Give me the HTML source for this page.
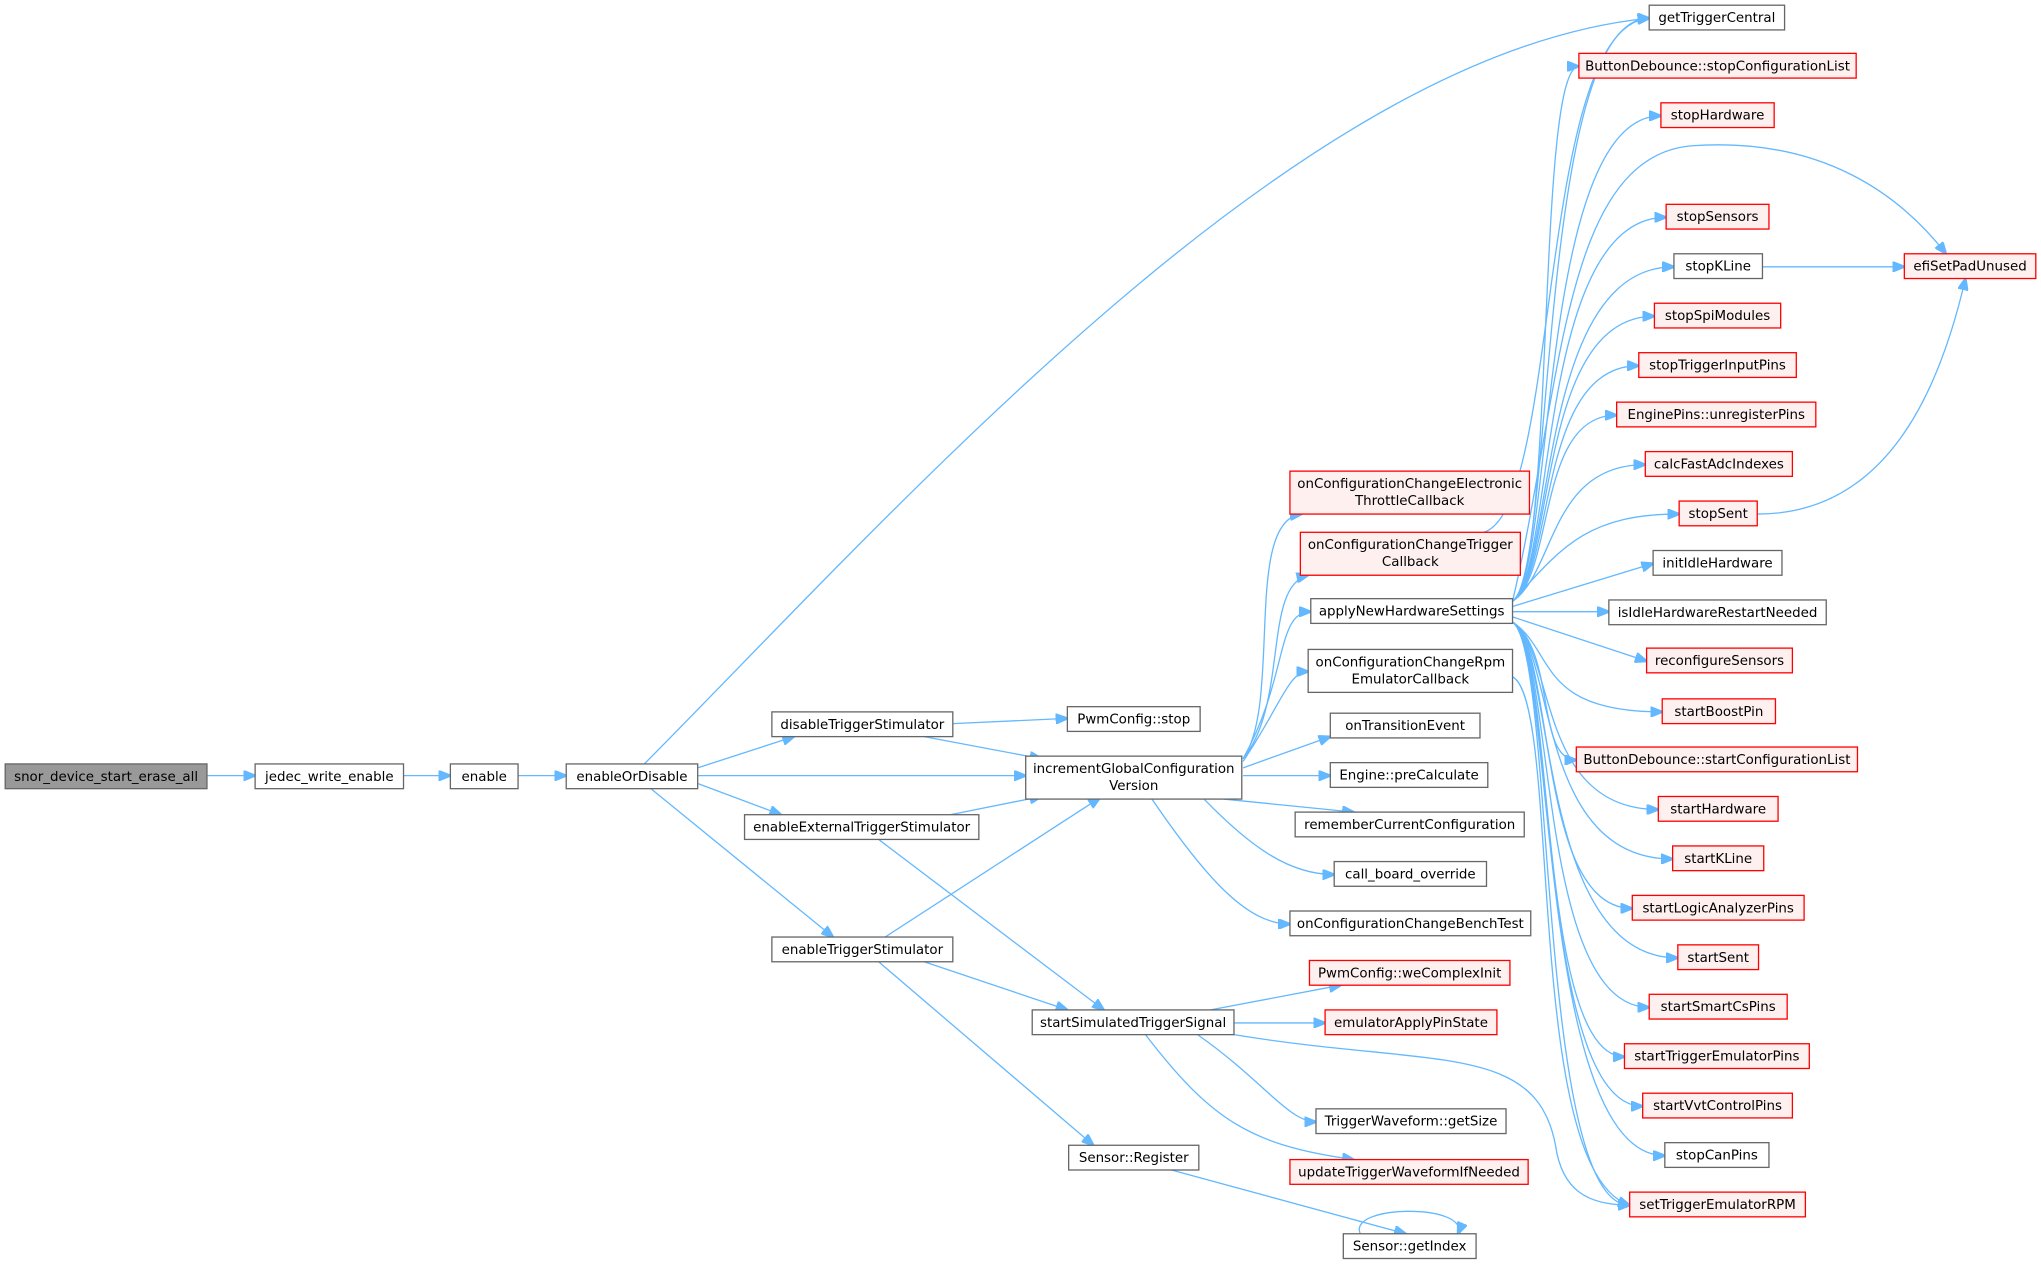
<!DOCTYPE html>
<html><head><meta charset="utf-8"><style>
html,body{margin:0;padding:0;background:#fff;}
svg{display:block;}
text{font-family:"DejaVu Sans","Liberation Sans",sans-serif;font-size:10.3px;fill:#000;text-anchor:middle;}
.n{fill:#fff;stroke:#666;stroke-width:1;}
.r{fill:#fff0f0;stroke:#f00;stroke-width:1;}
.g{fill:#999;stroke:#666;stroke-width:1;}
path{fill:none;stroke:#63b8ff;stroke-width:1;}
</style></head><body>
<svg width="2041" height="1265" viewBox="0 0 1568 972" preserveAspectRatio="none" xmlns="http://www.w3.org/2000/svg">
<defs><marker id="a" markerWidth="10" markerHeight="8" refX="9" refY="4" orient="auto" markerUnits="userSpaceOnUse"><path d="M0,0 L10,4 L0,8 Z" style="fill:#63b8ff;stroke:#63b8ff"/></marker></defs>
<g marker-end="url(#a)">
<path d="M159,596 L196,596"/>
<path d="M310,596 L346,596"/>
<path d="M398,596 L435,596"/>
<path d="M536,590 L610,566"/>
<path d="M536,596 L788,596"/>
<path d="M536,602 L600,626"/>
<path d="M500,606 L640,720"/>
<path d="M495,587 C700,380 1000,40 1267,14"/>
<path d="M732,556 L820,552"/>
<path d="M710,566 L800,583"/>
<path d="M730,626 L800,612"/>
<path d="M675,645 L848,776"/>
<path d="M680,720 L845,613"/>
<path d="M710,739 L820,776"/>
<path d="M675,739 L840,880"/>
<path d="M955,583 C985,540 955,400 1000,395"/>
<path d="M955,583 C990,540 970,450 1005,442"/>
<path d="M955,583 C990,520 980,470 1007,470"/>
<path d="M955,585 C985,540 990,516 1005,516"/>
<path d="M955,590 L1022,566"/>
<path d="M955,596 L1022,596"/>
<path d="M940,614 L1040,624"/>
<path d="M925,614 C960,650 990,672 1025,672"/>
<path d="M885,614 C930,680 960,710 991,710"/>
<path d="M930,776 L1030,757"/>
<path d="M948,786 L1018,786"/>
<path d="M920,795 C970,830 990,862 1011,862"/>
<path d="M880,795 C930,860 960,880 1040,891"/>
<path d="M948,795 C1100,820 1180,800 1195,880 C1200,915 1220,926 1252,926"/>
<path d="M900,899 L1080,948"/>
<path d="M1045,948 C1035,925 1130,925 1120,948"/>
<path d="M1162,520 C1200,540 1170,900 1252,926"/>
<path d="M1140,409 C1200,390 1180,20 1267,14"/>
<path d="M1354,205 L1463,205"/>
<path d="M1350,395 C1450,395 1490,300 1510,214"/>
<path d="M1162,462 C1200,300 1200,120 1300,112 C1400,105 1460,150 1495,195"/>
<path d="M1162,462 C1195,440 1180,14 1267,14"/>
<path d="M1162,462 C1195,440 1180,51 1213,51"/>
<path d="M1162,462 C1195,440 1180,89 1276,89"/>
<path d="M1162,462 C1195,440 1180,167 1280,167"/>
<path d="M1162,462 C1195,440 1180,205 1286,205"/>
<path d="M1162,462 C1195,440 1180,243 1271,243"/>
<path d="M1162,462 C1195,440 1180,281 1259,281"/>
<path d="M1162,462 C1195,440 1180,319 1242,319"/>
<path d="M1162,462 C1195,440 1190,357 1264,357"/>
<path d="M1162,462 C1200,420 1220,395 1290,395"/>
<path d="M1162,466 L1270,433"/>
<path d="M1162,470 L1236,470"/>
<path d="M1162,474 L1265,508"/>
<path d="M1162,478 C1195,500 1180,547 1277,547"/>
<path d="M1162,478 C1195,500 1180,584 1211,584"/>
<path d="M1162,478 C1195,500 1180,622 1274,622"/>
<path d="M1162,478 C1195,500 1180,660 1285,660"/>
<path d="M1162,478 C1195,500 1180,698 1254,698"/>
<path d="M1162,478 C1195,500 1180,736 1289,736"/>
<path d="M1162,478 C1195,500 1180,774 1267,774"/>
<path d="M1162,478 C1195,500 1180,812 1248,812"/>
<path d="M1162,478 C1195,500 1180,850 1262,850"/>
<path d="M1162,478 C1195,500 1180,888 1279,888"/>
<path d="M1162,478 C1195,500 1180,926 1252,926"/>
</g>
<g>
<rect class="g" x="4" y="587" width="155" height="19"/><text x="81.5" y="600">snor_device_start_erase_all</text>
<rect class="n" x="196" y="587" width="114" height="19"/><text x="253" y="600">jedec_write_enable</text>
<rect class="n" x="346" y="587" width="52" height="19"/><text x="372" y="600">enable</text>
<rect class="n" x="435" y="587" width="101" height="19"/><text x="485.5" y="600">enableOrDisable</text>
<rect class="n" x="593" y="547" width="139" height="19"/><text x="662.5" y="560">disableTriggerStimulator</text>
<rect class="n" x="572" y="626" width="180" height="19"/><text x="662" y="639">enableExternalTriggerStimulator</text>
<rect class="n" x="593" y="720" width="139" height="19"/><text x="662.5" y="733">enableTriggerStimulator</text>
<rect class="n" x="820" y="543" width="102" height="19"/><text x="871" y="556">PwmConfig::stop</text>
<rect class="n" x="788" y="581" width="166" height="33"/><text x="871" y="594">incrementGlobalConfiguration</text><text x="871" y="607">Version</text>
<rect class="n" x="793" y="776" width="155" height="19"/><text x="870.5" y="789">startSimulatedTriggerSignal</text>
<rect class="n" x="821" y="880" width="100" height="19"/><text x="871" y="893">Sensor::Register</text>
<rect class="r" x="991" y="362" width="184" height="33"/><text x="1083" y="375">onConfigurationChangeElectronic</text><text x="1083" y="388">ThrottleCallback</text>
<rect class="r" x="999" y="409" width="169" height="33"/><text x="1083.5" y="422">onConfigurationChangeTrigger</text><text x="1083.5" y="435">Callback</text>
<rect class="n" x="1007" y="460" width="155" height="19"/><text x="1084.5" y="473">applyNewHardwareSettings</text>
<rect class="n" x="1005" y="499" width="157" height="33"/><text x="1083.5" y="512">onConfigurationChangeRpm</text><text x="1083.5" y="525">EmulatorCallback</text>
<rect class="n" x="1022" y="548" width="115" height="19"/><text x="1079.5" y="561">onTransitionEvent</text>
<rect class="n" x="1022" y="586" width="121" height="19"/><text x="1082.5" y="599">Engine::preCalculate</text>
<rect class="n" x="995" y="624" width="176" height="19"/><text x="1083" y="637">rememberCurrentConfiguration</text>
<rect class="n" x="1025" y="662" width="117" height="19"/><text x="1083.5" y="675">call_board_override</text>
<rect class="n" x="991" y="700" width="185" height="19"/><text x="1083.5" y="713">onConfigurationChangeBenchTest</text>
<rect class="r" x="1006" y="738" width="154" height="19"/><text x="1083" y="751">PwmConfig::weComplexInit</text>
<rect class="r" x="1018" y="776" width="132" height="19"/><text x="1084" y="789">emulatorApplyPinState</text>
<rect class="n" x="1011" y="852" width="146" height="19"/><text x="1084" y="865">TriggerWaveform::getSize</text>
<rect class="r" x="991" y="891" width="183" height="19"/><text x="1082.5" y="904">updateTriggerWaveformIfNeeded</text>
<rect class="n" x="1032" y="948" width="102" height="19"/><text x="1083" y="961">Sensor::getIndex</text>
<rect class="n" x="1267" y="4" width="104" height="19"/><text x="1319" y="17">getTriggerCentral</text>
<rect class="r" x="1213" y="41" width="213" height="19"/><text x="1319.5" y="54">ButtonDebounce::stopConfigurationList</text>
<rect class="r" x="1276" y="79" width="87" height="19"/><text x="1319.5" y="92">stopHardware</text>
<rect class="r" x="1280" y="157" width="79" height="19"/><text x="1319.5" y="170">stopSensors</text>
<rect class="n" x="1286" y="195" width="68" height="19"/><text x="1320" y="208">stopKLine</text>
<rect class="r" x="1463" y="195" width="101" height="19"/><text x="1513.5" y="208">efiSetPadUnused</text>
<rect class="r" x="1271" y="233" width="97" height="19"/><text x="1319.5" y="246">stopSpiModules</text>
<rect class="r" x="1259" y="271" width="121" height="19"/><text x="1319.5" y="284">stopTriggerInputPins</text>
<rect class="r" x="1242" y="309" width="153" height="19"/><text x="1318.5" y="322">EnginePins::unregisterPins</text>
<rect class="r" x="1264" y="347" width="113" height="19"/><text x="1320.5" y="360">calcFastAdcIndexes</text>
<rect class="r" x="1290" y="385" width="60" height="19"/><text x="1320" y="398">stopSent</text>
<rect class="n" x="1270" y="423" width="99" height="19"/><text x="1319.5" y="436">initIdleHardware</text>
<rect class="n" x="1236" y="461" width="167" height="19"/><text x="1319.5" y="474">isIdleHardwareRestartNeeded</text>
<rect class="r" x="1265" y="498" width="112" height="19"/><text x="1321" y="511">reconfigureSensors</text>
<rect class="r" x="1277" y="537" width="87" height="19"/><text x="1320.5" y="550">startBoostPin</text>
<rect class="r" x="1211" y="574" width="216" height="19"/><text x="1319" y="587">ButtonDebounce::startConfigurationList</text>
<rect class="r" x="1274" y="612" width="92" height="19"/><text x="1320" y="625">startHardware</text>
<rect class="r" x="1285" y="650" width="70" height="19"/><text x="1320" y="663">startKLine</text>
<rect class="r" x="1254" y="688" width="132" height="19"/><text x="1320" y="701">startLogicAnalyzerPins</text>
<rect class="r" x="1289" y="726" width="62" height="19"/><text x="1320" y="739">startSent</text>
<rect class="r" x="1267" y="764" width="106" height="19"/><text x="1320" y="777">startSmartCsPins</text>
<rect class="r" x="1248" y="802" width="142" height="19"/><text x="1319" y="815">startTriggerEmulatorPins</text>
<rect class="r" x="1262" y="840" width="115" height="19"/><text x="1319.5" y="853">startVvtControlPins</text>
<rect class="n" x="1279" y="878" width="80" height="19"/><text x="1319" y="891">stopCanPins</text>
<rect class="r" x="1252" y="916" width="135" height="19"/><text x="1319.5" y="929">setTriggerEmulatorRPM</text>
</g>
</svg>
</body></html>
